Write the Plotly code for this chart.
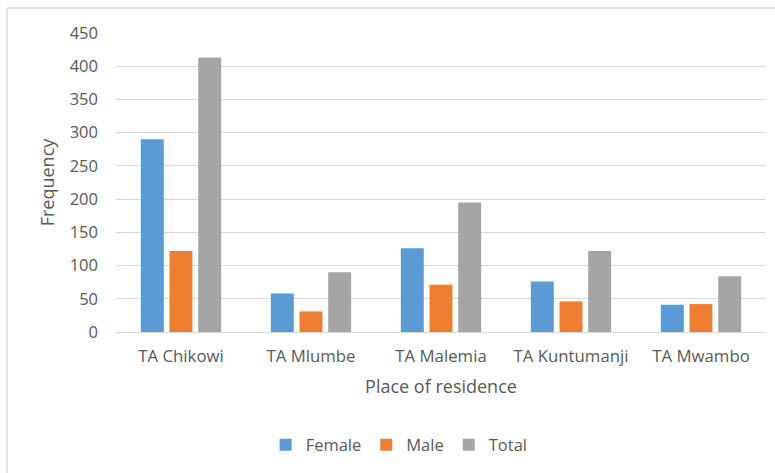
import plotly.graph_objects as go

places = ["TA Chikowi", "TA Mlumbe", "TA Malemia", "TA Kuntumanji", "TA Mwambo"]
female = [290, 58, 126, 76, 41]
male = [122, 31, 71, 46, 42]
total = [413, 90, 195, 122, 84]
y_ticks = [0, 50, 100, 150, 200, 250, 300, 350, 400, 450]

font_family = "Open Sans, Liberation Sans, sans-serif"
text_grey = "#595959"

fig = go.Figure()
for name, vals, color in [("Female", female, "#5B9BD5"),
                          ("Male", male, "#ED7D31"),
                          ("Total", total, "#A5A5A5")]:
    fig.add_trace(go.Bar(name=name, x=places, y=vals, marker_color=color,
                         marker_line_width=0))

fig.update_layout(
    width=775, height=473,
    margin=dict(l=116, r=9, t=33, b=141, autoexpand=False),
    paper_bgcolor="white", plot_bgcolor="white",
    barmode="group", bargap=0.338, bargroupgap=0.2,
    font=dict(family=font_family, size=14, color=text_grey),
    showlegend=True,
    legend=dict(orientation="h", xref="container", yref="container",
                x=0.515, xanchor="center", y=0.059, yanchor="middle",
                font=dict(size=16.5, color=text_grey), itemwidth=30,
                traceorder="normal"),
    xaxis=dict(showgrid=False, showline=True, linecolor="#D9D9D9", linewidth=1,
               ticks="", tickfont=dict(size=16.8, color=text_grey),
               ticklabelstandoff=9,
               title=dict(text="Place of residence", standoff=14,
                          font=dict(size=18, color=text_grey))),
    yaxis=dict(range=[0, 450], tickvals=y_ticks, showgrid=True,
               gridcolor="#D9D9D9", gridwidth=1, zeroline=False,
               ticks="", tickfont=dict(size=16.5, color=text_grey),
               ticklabelstandoff=17,
               title=dict(text="Frequency", standoff=10,
                          font=dict(size=18, color=text_grey))),
    shapes=[
        dict(type="line", xref="paper", yref="paper",
             x0=-0.1677, x1=1.02, y0=1.0838, y1=1.0838,
             line=dict(color="#D9D9D9", width=1.5)),
        dict(type="line", xref="paper", yref="paper",
             x0=-0.1677, x1=-0.1677, y0=1.0838, y1=-0.52,
             line=dict(color="#D9D9D9", width=1.5)),
    ],
)

fig.write_html("out.html")
